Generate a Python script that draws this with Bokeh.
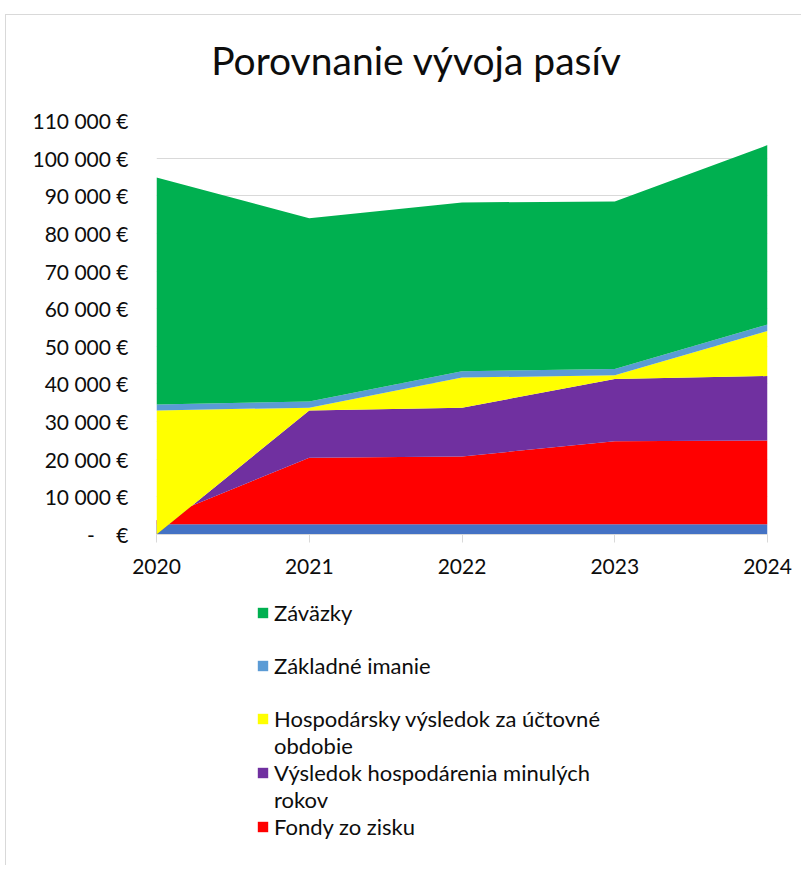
from bokeh.plotting import figure
from bokeh.layouts import column
from bokeh.models import ColumnDataSource, FixedTicker, Legend, LegendItem, Label
from bokeh.embed import file_html
from bokeh.resources import INLINE

# ---- data (EUR) ----
years = [2020, 2021, 2022, 2023, 2024]
year_labels = ["2020", "2021", "2022", "2023", "2024"]
ostatne = [2700, 2700, 2700, 2700, 2700]             # bottom band, no legend entry
fondy_zo_zisku = [1100, 17700, 18050, 22050, 22300]
vysledok_minulych_rokov = [-3800, 12580, 12960, 16570, 17100]
hosp_vysledok_obdobie = [32980, 720, 7980, 990, 11970]
zakladne_imanie = [1590, 1670, 1670, 1670, 1700]
zavazky = [60300, 48670, 44870, 44520, 47690]

series_keys = ["ostatne", "fondy", "minule", "hosp", "imanie", "zavazky"]
series_colors = ["#4472C4", "#FF0000", "#7030A0", "#FFFF00", "#5B9BD5", "#00B050"]

y_ticks = [0, 10000, 20000, 30000, 40000, 50000, 60000, 70000, 80000, 90000, 100000, 110000]
y_tick_labels = ["-\u00a0\u00a0\u00a0\u00a0€", "10 000 €", "20 000 €", "30 000 €", "40 000 €",
                 "50 000 €", "60 000 €", "70 000 €", "80 000 €", "90 000 €",
                 "100 000 €", "110 000 €"]

# legend rows (None key = text-only row / spacer)
legend_rows = [("Záväzky", "zavazky"), (" ", None),
               ("Základné imanie", "imanie"), (" ", None),
               ("Hospodársky výsledok za účtovné", "hosp"), ("obdobie", None),
               ("Výsledok hospodárenia minulých", "minule"), ("rokov", None),
               ("Fondy zo zisku", "fondy")]

title_text = "Porovnanie vývoja pasív"

FONT = "Lato"
TEXT_COLOR = "#0d0d0d"
color_of = dict(zip(series_keys, series_colors))

src = ColumnDataSource(dict(
    year=years,
    ostatne=ostatne,
    fondy=fondy_zo_zisku,
    minule=vysledok_minulych_rokov,
    hosp=hosp_vysledok_obdobie,
    imanie=zakladne_imanie,
    zavazky=zavazky,
))


def blank_panel(height):
    f = figure(width=795, height=height, output_backend="svg", toolbar_location=None,
               x_range=(0, 1), y_range=(0, 1), x_axis_type=None, y_axis_type=None,
               min_border_left=0, min_border_right=0, min_border_top=0, min_border_bottom=0)
    f.outline_line_color = None
    f.grid.grid_line_color = None
    f.background_fill_color = "white"
    f.border_fill_color = "white"
    return f


# ---------------- title panel ----------------
pt = blank_panel(90)
pt.add_layout(Label(x=260, y=46, x_units="screen", y_units="screen",
                    text=title_text, text_align="center", text_baseline="alphabetic",
                    text_font=FONT, text_font_size="39px", text_color=TEXT_COLOR))

# ---------------- main chart ----------------
p = figure(width=795, height=485, output_backend="svg", toolbar_location=None,
           x_range=(2020, 2024), y_range=(0, 110000),
           min_border_left=150, min_border_right=34,
           min_border_top=15, min_border_bottom=56)
p.outline_line_color = None
p.background_fill_color = "white"
p.border_fill_color = "white"

renderers = p.varea_stack(stackers=series_keys, x="year", color=series_colors, source=src)

p.xaxis.ticker = FixedTicker(ticks=years)
p.xaxis.major_label_overrides = {y: l for y, l in zip(years, year_labels)}
p.xaxis.major_label_text_font = FONT
p.xaxis.major_label_text_font_size = "21px"
p.xaxis.major_label_text_color = TEXT_COLOR
p.xaxis.axis_line_color = "#d9d9d9"
p.xaxis.major_tick_line_color = "#d9d9d9"
p.xaxis.major_tick_out = 8
p.xaxis.major_tick_in = 0
p.xaxis.minor_tick_line_color = None
p.xaxis.major_label_standoff = 16

p.yaxis.ticker = FixedTicker(ticks=y_ticks)
p.yaxis.major_label_overrides = {t: l for t, l in zip(y_ticks, y_tick_labels)}
p.yaxis.major_label_text_font = FONT
p.yaxis.major_label_text_font_size = "21px"
p.yaxis.major_label_text_color = TEXT_COLOR
p.yaxis.axis_line_color = None
p.yaxis.major_tick_line_color = None
p.yaxis.minor_tick_line_color = None
p.yaxis.major_tick_out = 0
p.yaxis.major_label_standoff = 28

p.xgrid.grid_line_color = None
p.ygrid.grid_line_color = "#d9d9d9"
p.ygrid.grid_line_width = 1
p.ygrid.ticker = FixedTicker(ticks=y_ticks)

# ---------------- legend panel ----------------
pl = blank_panel(275)

# legend swatches: zero-height areas (outside the visible range) in the series colours
swatch = {k: pl.varea(x="year", y1=-1, y2=-1, source=src, fill_color=color_of[k])
          for k in series_keys}
blank = pl.varea(x="year", y1=-1, y2=-1, source=src, fill_alpha=0)

items = [LegendItem(label=lab, renderers=[swatch[k] if k else blank]) for lab, k in legend_rows]
legend = Legend(items=items, location=(100, 25), orientation="vertical",
                glyph_width=13, glyph_height=13, label_height=26, spacing=0,
                label_standoff=5, padding=0, margin=0,
                label_text_font=FONT, label_text_font_size="22px",
                label_text_color=TEXT_COLOR,
                border_line_color=None, background_fill_alpha=0)
pl.add_layout(legend, "center")

layout = column(pt, p, pl, spacing=0)
layout.styles = {"margin-left": "5px", "margin-top": "14px",
                 "border-top": "1px solid #d9d9d9", "border-left": "1px solid #d9d9d9"}

open("out.html", "w").write(file_html(layout, INLINE))
